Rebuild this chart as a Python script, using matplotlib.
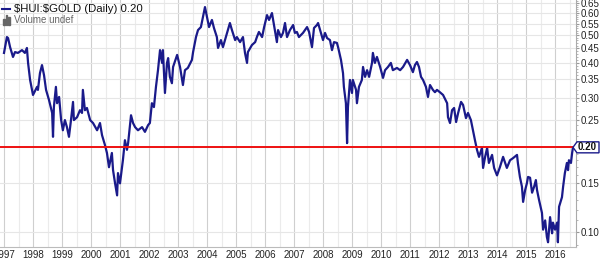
import numpy as np
import matplotlib
matplotlib.use("Agg")
import matplotlib.pyplot as plt
from matplotlib.patches import Polygon
from matplotlib.ticker import FixedLocator, NullFormatter

plt.rcParams['font.family'] = ['Liberation Sans', 'DejaVu Sans']

# --- Data: $HUI:$GOLD ratio (decimal year, ratio) ---
dates = [
    1997.00, 1997.10, 1997.14, 1997.21, 1997.31, 1997.38, 1997.48, 1997.62, 1997.72, 1997.79,
    1997.83, 1997.90, 1998.00, 1998.14, 1998.17, 1998.24, 1998.31, 1998.38, 1998.45, 1998.55,
    1998.66, 1998.69, 1998.72, 1998.79, 1998.83, 1998.90, 1998.97, 1999.03, 1999.10, 1999.17,
    1999.24, 1999.31, 1999.38, 1999.41, 1999.52, 1999.62, 1999.69, 1999.72, 1999.79, 1999.86,
    1999.97, 2000.07, 2000.21, 2000.31, 2000.38, 2000.48, 2000.55, 2000.62, 2000.72, 2000.76,
    2000.83, 2000.90, 2000.93, 2001.00, 2001.10, 2001.17, 2001.24, 2001.28, 2001.38, 2001.45,
    2001.52, 2001.62, 2001.76, 2001.86, 2001.97,
    2002.03, 2002.10, 2002.17, 2002.24, 2002.31, 2002.38, 2002.45, 2002.48, 2002.55, 2002.62,
    2002.66, 2002.72, 2002.79, 2002.83, 2002.97, 2003.07, 2003.17, 2003.24, 2003.34, 2003.48,
    2003.52, 2003.62, 2003.69, 2003.79, 2003.86, 2003.93, 2004.00, 2004.07, 2004.17, 2004.24,
    2004.34, 2004.38, 2004.48, 2004.55, 2004.62, 2004.69, 2004.79, 2004.86, 2004.97, 2005.03,
    2005.14, 2005.24, 2005.31, 2005.38, 2005.41, 2005.55, 2005.66, 2005.72, 2005.79, 2005.90,
    2005.97, 2006.07, 2006.14, 2006.24, 2006.31, 2006.41, 2006.45, 2006.55, 2006.62, 2006.69,
    2006.76, 2006.86, 2006.97, 2007.03, 2007.10, 2007.17,
    2007.31, 2007.45, 2007.52, 2007.62, 2007.69, 2007.79, 2007.83, 2007.93, 2008.00, 2008.07,
    2008.14, 2008.24, 2008.31, 2008.38, 2008.48, 2008.52, 2008.62, 2008.69, 2008.72, 2008.79,
    2008.83, 2008.86, 2008.93, 2009.00, 2009.03, 2009.14, 2009.17, 2009.24, 2009.34, 2009.38,
    2009.45, 2009.52, 2009.59, 2009.69, 2009.72, 2009.79, 2009.86, 2009.97, 2010.07, 2010.14,
    2010.24, 2010.34, 2010.41, 2010.55, 2010.66, 2010.76, 2010.90, 2011.00, 2011.10, 2011.17,
    2011.24, 2011.31, 2011.38, 2011.45, 2011.55, 2011.62, 2011.69, 2011.79, 2011.86, 2011.93,
    2012.03, 2012.14, 2012.28, 2012.31, 2012.38, 2012.45, 2012.52, 2012.59, 2012.66, 2012.76,
    2012.83, 2012.93, 2013.00, 2013.10, 2013.17, 2013.24, 2013.31, 2013.38, 2013.48, 2013.52,
    2013.59, 2013.66, 2013.72, 2013.83, 2013.90, 2014.00, 2014.10, 2014.21, 2014.28, 2014.34,
    2014.45, 2014.55, 2014.69, 2014.72, 2014.79, 2014.86, 2014.90, 2014.97, 2015.03, 2015.07,
    2015.14, 2015.21, 2015.28, 2015.34, 2015.38, 2015.45, 2015.55, 2015.59, 2015.66, 2015.72,
    2015.76, 2015.83, 2015.90, 2015.93, 2016.00, 2016.07, 2016.10, 2016.14, 2016.24, 2016.28,
    2016.34, 2016.41, 2016.45, 2016.48, 2016.55, 2016.59, 2016.62,
]
ratio = [
    0.433, 0.493, 0.489, 0.454, 0.419, 0.436, 0.433, 0.443, 0.433, 0.451,
    0.399, 0.347, 0.307, 0.328, 0.320, 0.367, 0.392, 0.361, 0.320, 0.295,
    0.265, 0.218, 0.278, 0.328, 0.287, 0.302, 0.250, 0.230, 0.250, 0.236,
    0.218, 0.250, 0.290, 0.250, 0.256, 0.271, 0.265, 0.320, 0.271, 0.276,
    0.250, 0.244, 0.230, 0.244, 0.221, 0.204, 0.191, 0.170, 0.191, 0.166,
    0.149, 0.135, 0.162, 0.149, 0.180, 0.212, 0.196, 0.207, 0.260, 0.244,
    0.236, 0.230, 0.236, 0.227, 0.240,
    0.244, 0.287, 0.278, 0.328, 0.376, 0.443, 0.399, 0.443, 0.312, 0.399,
    0.415, 0.356, 0.338, 0.386, 0.426, 0.386, 0.333, 0.376, 0.383, 0.409,
    0.436, 0.493, 0.522, 0.535, 0.581, 0.630, 0.581, 0.535, 0.567, 0.531,
    0.493, 0.451, 0.481, 0.454, 0.481, 0.510, 0.553, 0.522, 0.481, 0.493,
    0.473, 0.493, 0.433, 0.399, 0.436, 0.462, 0.473, 0.493, 0.514, 0.493,
    0.535, 0.590, 0.567, 0.600, 0.544, 0.473, 0.522, 0.493, 0.510, 0.553,
    0.493, 0.522, 0.544, 0.510, 0.514, 0.493,
    0.510, 0.535, 0.514, 0.454, 0.531, 0.544, 0.553, 0.510, 0.481, 0.510,
    0.489, 0.481, 0.443, 0.473, 0.470, 0.454, 0.409, 0.367, 0.328, 0.287,
    0.207, 0.278, 0.347, 0.312, 0.347, 0.320, 0.287, 0.328, 0.347, 0.386,
    0.356, 0.376, 0.356, 0.399, 0.433, 0.399, 0.419, 0.386, 0.353, 0.376,
    0.386, 0.399, 0.376, 0.383, 0.376, 0.386, 0.409, 0.392, 0.370, 0.392,
    0.402, 0.386, 0.356, 0.347, 0.328, 0.302, 0.333, 0.320, 0.314, 0.320,
    0.314, 0.307, 0.287, 0.256, 0.244, 0.271, 0.276, 0.246, 0.265, 0.290,
    0.283, 0.254, 0.265, 0.250, 0.230, 0.212, 0.196, 0.185, 0.199, 0.169,
    0.185, 0.199, 0.176, 0.188, 0.169, 0.159, 0.170, 0.185, 0.176, 0.169,
    0.180, 0.183, 0.188, 0.176, 0.157, 0.145, 0.128, 0.141, 0.149, 0.157,
    0.156, 0.138, 0.145, 0.153, 0.141, 0.130, 0.117, 0.102, 0.110, 0.096,
    0.092, 0.113, 0.099, 0.108, 0.102, 0.108, 0.092, 0.123, 0.133, 0.145,
    0.162, 0.176, 0.166, 0.180, 0.176, 0.191, 0.200,
]
last_value = 0.20
years = list(range(1997, 2017))
price_ticks = [0.10, 0.15, 0.20, 0.25, 0.30, 0.35, 0.40, 0.45, 0.50, 0.55, 0.60, 0.65]

line_color = "#1a1a8a"

fig = plt.figure(figsize=(6.0, 2.6), dpi=100)
ax = fig.add_axes([0.0, 0.05, 0.96, 0.95])
ax.set_yscale("log")
ax.set_xlim(1996.862, 2016.724)
ax.set_ylim(0.0885, 0.6676)

# grid: darker at year starts, lighter at mid-year
for yr in years:
    ax.axvline(yr, color="#cfcfcf", lw=0.8, zorder=0)
    ax.axvline(yr + 0.5, color="#ebebeb", lw=0.8, zorder=0)
for p in price_ticks:
    ax.axhline(p, color="#e6e6e6", lw=0.8, zorder=0)

ax.plot(dates, ratio, color=line_color, lw=1.6, zorder=3)
ax.axhline(last_value, color="#ee1111", lw=1.4, zorder=4)

# x axis
ax.xaxis.set_major_locator(FixedLocator(years))
ax.set_xticklabels([str(y) for y in years])
ax.tick_params(axis="x", length=0, pad=2, labelsize=7, labelcolor="#222222")

# y axis on the right
ax.yaxis.tick_right()
ax.yaxis.set_major_locator(FixedLocator(price_ticks))
ax.yaxis.set_minor_locator(FixedLocator(np.arange(0.09, 0.67, 0.01)))
ax.yaxis.set_minor_formatter(NullFormatter())
ax.set_yticklabels(["" if p == last_value else f"{p:.2f}" for p in price_ticks])
ax.tick_params(axis="y", which="major", length=2, pad=1, labelsize=7,
               labelcolor="#222222", color="#999999")
ax.tick_params(axis="y", which="minor", length=1.5, color="#aaaaaa")

for side in ["left", "top"]:
    ax.spines[side].set_visible(False)
ax.spines["right"].set_color("#aaaaaa")
ax.spines["bottom"].set_color("#bbbbbb")

# last value marker: pointed box on the right axis
fig.canvas.draw()
x_right, yc = ax.transData.transform((2016.724, last_value))
tip = x_right - 3
pts = [(tip, yc), (tip + 4, yc + 5.5), (599, yc + 5.5), (599, yc - 5.5), (tip + 4, yc - 5.5)]
fig.patches.append(Polygon(pts, closed=True, transform=None, fc="white", ec=line_color,
                           lw=1.0, zorder=5, figure=fig))
fig.text((tip + 5) / 600, yc / 260, f"{last_value:.2f}", fontsize=7, fontweight="bold",
         color="#111111", ha="left", va="center", zorder=6)

# legend text top-left
ax.plot([0.004, 0.018], [0.965, 0.965], transform=ax.transAxes, color=line_color, lw=1.5,
        clip_on=False)
ax.text(0.024, 0.965, r"\$HUI:\$GOLD (Daily) 0.20", transform=ax.transAxes,
        fontsize=8.2, va="center", ha="left", color="#111111")
ax.text(0.024, 0.918, "Volume undef", transform=ax.transAxes,
        fontsize=7, va="center", ha="left", color="#666666")
for i, h in enumerate([0.012, 0.02, 0.016]):
    ax.add_patch(plt.Rectangle((0.006 + i * 0.004, 0.9), 0.003, h * 2.0,
                               transform=ax.transAxes, color="#666666"))

fig.savefig("out.png", dpi=100)
